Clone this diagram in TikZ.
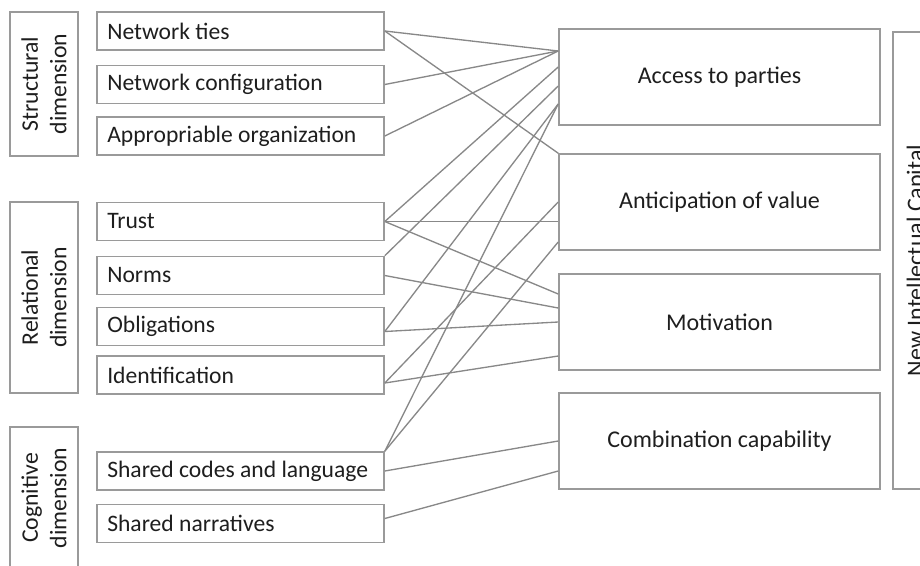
\documentclass[tikz,border=0pt]{standalone}
\usepackage{fontspec}
\setmainfont{Carlito}
\usetikzlibrary{calc}
\definecolor{boxgray}{HTML}{9A9A9A}
\definecolor{linkgray}{HTML}{888888}
\definecolor{inkgray}{HTML}{1E1E1E}
\begin{document}
\begin{tikzpicture}[x=0.75pt,y=-0.75pt,
  itembox/.style={draw=boxgray, line width=1.2pt,
    minimum width=215.25pt, minimum height=28.5pt, inner sep=0pt},
  itemtext/.style={anchor=west, text=inkgray, inner sep=0pt,
    font=\fontsize{17.7}{21}\selectfont},
  midbox/.style={draw=boxgray, line width=1.2pt, text=inkgray,
    minimum width=240.75pt, minimum height=72pt, inner sep=0pt,
    font=\fontsize{18}{22}\selectfont},
  dimbox/.style={draw=boxgray, line width=1.2pt, text=inkgray, rotate=90,
    minimum height=51pt, inner sep=0pt, align=center,
    font=\fontsize{17.8}{21.3}\selectfont},
  link/.style={draw=linkgray, line width=1pt}]
\useasboundingbox (0,0) rectangle (920,565);
\clip (0,0) rectangle (920,565);

% dimension groups
\node[dimbox, minimum width=108pt]    (struct) at (44,84)    {Structural\\dimension};
\node[dimbox, minimum width=143.25pt] (rel)    at (44,297.5) {Relational\\dimension};
\node[dimbox, minimum width=106.5pt]  (cogn)   at (44,498)   {Cognitive\\dimension};

% social capital items
\foreach \name/\yc/\txt in {nt/31/Network ties, nc/84.5/Network configuration,
    ao/136/Appropriable organization, trust/221.5/Trust, norms/275.5/Norms,
    obl/326.5/Obligations, ident/375/Identification,
    codes/471/Shared codes and language, narr/523.5/Shared narratives}{
  \node[itembox] (\name) at (240.5,\yc) {};
  \node[itemtext] (\name-t) at (107,\yc) {\txt};
}

% mediating conditions
\node[midbox] (acc)  at (719.5,77)  {Access to parties};
\node[midbox] (ant)  at (719.5,202) {Anticipation of value};
\node[midbox] (mot)  at (719.5,322) {Motivation};
\node[midbox] (comb) at (719.5,441) {Combination capability};

% outcome
\node[draw=boxgray, line width=1.2pt, text=inkgray, rotate=90,
  minimum width=342.75pt, minimum height=36pt, inner sep=0pt,
  font=\fontsize{18}{22}\selectfont] (nic) at (917,260.5) {New Intellectual Capital};

% links
\draw[link] (nt.east) -- ($(acc.west)+(0,-26)$);
\draw[link] (nt.east) -- (ant.north west);
\draw[link] (nc.east) -- ($(acc.west)+(0,-26)$);
\draw[link] (ao.east) -- ($(acc.west)+(0,-26)$);
\draw[link] (trust.east) -- ($(acc.west)+(0,-10)$);
\draw[link] (trust.east) -- ($(ant.west)+(0,19.5)$);
\draw[link] (trust.east) -- ($(mot.west)+(0,-28)$);
\draw[link] (norms.north east) -- ($(acc.west)+(0,9)$);
\draw[link] (norms.east) -- ($(mot.west)+(0,-14)$);
\draw[link] ($(obl.east)+(0,5)$) -- ($(acc.west)+(0,27)$);
\draw[link] ($(obl.east)+(0,5)$) -- (mot.west);
\draw[link] ($(ident.east)+(0,8)$) -- (ant.west);
\draw[link] ($(ident.east)+(0,8)$) -- ($(mot.west)+(0,34)$);
\draw[link] (codes.north east) -- ($(acc.west)+(0,27)$);
\draw[link] (codes.north east) -- ($(ant.west)+(0,40)$);
\draw[link] (codes.east) -- (comb.west);
\draw[link] ($(narr.east)+(0,-5)$) -- ($(comb.west)+(0,30)$);
\end{tikzpicture}
\end{document}
